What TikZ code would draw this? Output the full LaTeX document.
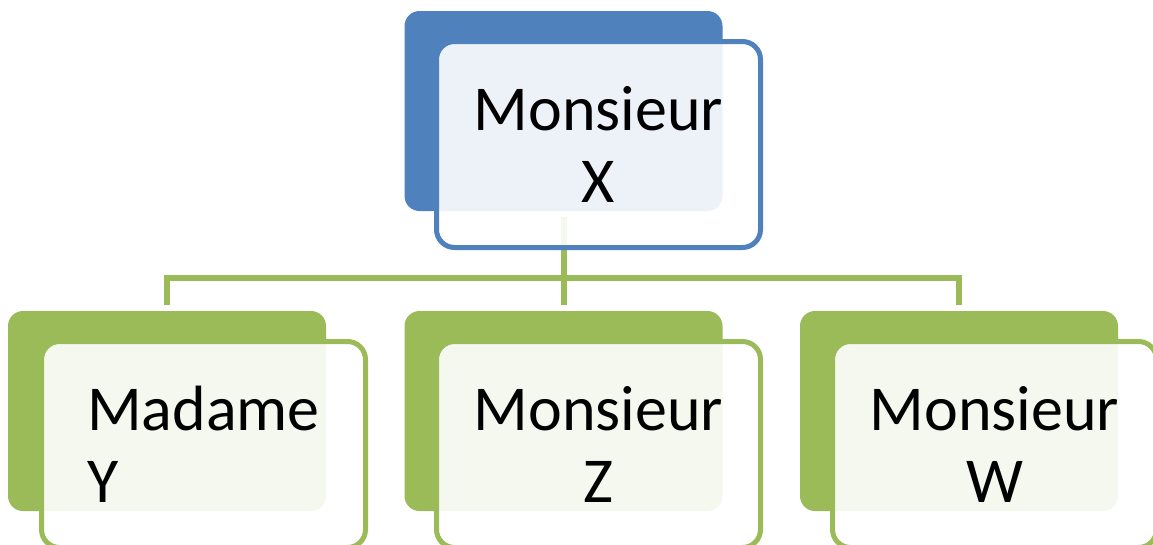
\documentclass[tikz,border=0pt]{standalone}
\usepackage{fontspec}
\setmainfont{Carlito}
\definecolor{blu}{HTML}{4F81BD}
\definecolor{grn}{HTML}{9BBB59}
\tikzset{
  backbox/.style={rectangle, rounded corners=15pt, minimum width=318pt, minimum height=200pt, inner sep=0pt, fill=#1},
  frontbox/.style={rectangle, rounded corners=18pt, minimum width=324pt, minimum height=206pt, inner sep=0pt, draw=#1, line width=5pt, fill=white, fill opacity=0.9, text opacity=1, font=\fontsize{64}{72}\selectfont},
  conn/.style={draw=grn, line width=6pt}
}
\begin{document}
\begin{tikzpicture}[x=1pt,y=-1pt]
\useasboundingbox (0,0) rectangle (1153,544);
\clip (0,0) rectangle (1153,544);
% back boxes
\node[backbox=blu] (topback) at (563.5,111) {};
\node[backbox=grn] (leftback) at (167,411) {};
\node[backbox=grn] (midback) at (563.5,411) {};
\node[backbox=grn] (rightback) at (959,411) {};
% connectors
\coordinate (hub) at (563.5,278);
\draw[conn] ([yshift=-6pt]topback.south) -- ([yshift=6pt]midback.north);
\draw[conn] ([yshift=6pt]leftback.north) |- (hub) -| ([yshift=6pt]rightback.north);
% front boxes
\node[frontbox=blu, align=center] (top) at (598.5,144.5) {Monsieur\\X};
\node[frontbox=grn, align=left] (left) at (203.5,444.5) {Madame\\Y};
\node[frontbox=grn, align=center] (mid) at (598.5,444.5) {Monsieur\\Z};
\node[frontbox=grn, align=center] (right) at (994.5,444.5) {Monsieur\\W};
\end{tikzpicture}
\end{document}
